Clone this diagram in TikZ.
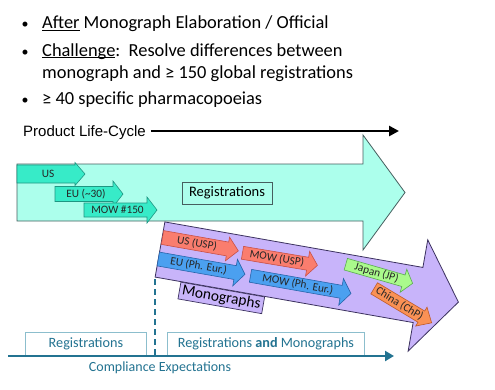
\documentclass[tikz,border=0pt]{standalone}
\usepackage{fontspec}
\setmainfont{Carlito}
\newfontfamily\arialf{Liberation Sans}
\usetikzlibrary{arrows.meta}
\definecolor{cyanbig}{RGB}{172,255,236}
\definecolor{cyanbigline}{RGB}{70,95,95}
\definecolor{cyansm}{RGB}{55,235,200}
\definecolor{cyansmline}{RGB}{30,150,130}
\definecolor{purp}{RGB}{200,180,250}
\definecolor{purpline}{RGB}{60,50,95}
\definecolor{salm}{RGB}{250,125,110}
\definecolor{salmline}{RGB}{200,80,70}
\definecolor{bluea}{RGB}{75,160,240}
\definecolor{blualine}{RGB}{40,100,170}
\definecolor{greena}{RGB}{170,250,140}
\definecolor{greenline}{RGB}{90,170,80}
\definecolor{orangea}{RGB}{250,145,85}
\definecolor{orangeline}{RGB}{190,90,40}
\definecolor{tealc}{RGB}{35,115,145}
\definecolor{tealbox}{RGB}{140,190,205}
\newcommand\myul[1]{{\setbox0\hbox{#1}\rlap{\rule[-2pt]{\wd0}{1pt}}\box0}}
\newcommand\myarrow[9]{%
  \begin{scope}[shift={(#2)},rotate=#3,transform shape]
    \draw[#8] (0,-#5/2) -- (#4,-#5/2) -- (#4,-#7) -- ({#4+#6},0) -- (#4,#7) -- (#4,#5/2) -- (0,#5/2) -- cycle;
    \node[lbl] (#1) at ({#4/2+2},0) {#9};
  \end{scope}}
\tikzset{
  lbl/.style={inner sep=0pt, font=\fontsize{11.3}{13}\selectfont, text=black!85},
  cyansmst/.style={fill=cyansm, draw=cyansmline, line width=0.6pt},
  salmst/.style={fill=salm, draw=salmline, line width=0.6pt},
  bluest/.style={fill=bluea, draw=blualine, line width=0.6pt},
  greenst/.style={fill=greena, draw=greenline, line width=0.6pt},
  orangest/.style={fill=orangea, draw=orangeline, line width=0.6pt},
  bullettext/.style={anchor=base west, inner sep=0pt, font=\fontsize{18.4}{22}\selectfont},
  bulletdot/.style={anchor=base, inner sep=0pt, font=\fontsize{14}{16}\selectfont},
  botbox/.style={draw=tealbox, line width=0.8pt, anchor=south west, minimum height=23pt, inner sep=0pt, text=tealc, font=\fontsize{14.2}{16}\selectfont},
}
\begin{document}
\begin{tikzpicture}[x=1pt,y=-1pt,line join=miter]
\useasboundingbox[fill=white] (0,0) rectangle (495,389);
% bullets
\node[bulletdot] (d1) at (25,28.5) {•};
\node[bullettext] (t1) at (42,28.5) {\myul{After} Monograph Elaboration / Official};
\node[bulletdot] (d2) at (25,56) {•};
\node[bullettext] (t2) at (42,56) {\myul{Challenge}:\ \ Resolve differences between};
\node[bullettext] (t3) at (42,78) {monograph and ≥ 150 global registrations};
\node[bulletdot] (d3) at (25,104) {•};
\node[bullettext] (t4) at (42,104) {≥ 40 specific pharmacopoeias};
% product life-cycle
\node[anchor=base west, inner sep=0pt, font=\arialf\fontsize{15}{17}\selectfont] (plc) at (23,136) {Product Life-Cycle};
\coordinate (plcend) at (399,131);
\draw[line width=2.6pt, -{Triangle[length=10pt,width=10pt]}] (plc.east |- plcend) ++(5,0) -- (plcend);
% big cyan arrow
\draw[fill=cyanbig, draw=cyanbigline, line width=0.8pt] (17,164) -- (363,164) -- (363,135) -- (405,192.5) -- (363,250) -- (363,221) -- (17,221) -- cycle;
\node[draw=cyanbigline, fill=cyanbig, line width=0.7pt, minimum width=90pt, minimum height=22pt, inner sep=0pt, font=\fontsize{14.5}{16}\selectfont] (regA) at (227,193) {Registrations};
\myarrow{us}{17,174}{0}{58}{18}{10}{11.5}{cyansmst}{US}
\myarrow{eu}{55,194}{0}{58}{15}{10}{13}{cyansmst}{EU (\textasciitilde30)}
\myarrow{mow}{84,210}{0}{63}{14}{10}{13}{cyansmst}{MOW \#150}
% big purple arrow
\begin{scope}[shift={(160,249.5)},rotate=-10]
\draw[fill=purp, draw=purpline, line width=0.8pt] (0,-28) -- (262,-28) -- (262,-56) -- (303,0) -- (262,57) -- (262,28) -- (0,28) -- cycle;
\end{scope}
\myarrow{usp}{162.5,237.5}{-10}{66}{14}{11}{12}{salmst}{US (USP)}
\myarrow{eup}{158.3,259}{-10}{78}{14}{10}{13.5}{bluest}{EU (Ph. Eur.)}
\myarrow{mowusp}{242.5,252.8}{-9.5}{66}{13}{10}{12.5}{salmst}{MOW (USP)}
\myarrow{mowpe}{250.5,275.8}{-10}{92}{13}{10}{13.5}{bluest}{MOW (Ph. Eur.)}
\myarrow{jp}{345.8,264.2}{-16}{60}{12}{9.5}{12}{greenst}{Japan (JP)}
\myarrow{chp}{374.2,288.3}{-31}{55}{13}{12}{11}{orangest}{China (ChP)}
\node[draw=purpline, fill=purp, line width=0.7pt, rotate=-10, minimum width=85pt, minimum height=17pt, inner sep=0pt, font=\fontsize{15.4}{17}\selectfont] (mono) at (221.3,297.9) {Monographs};
% bottom
\coordinate (dtop) at (155,279);
\coordinate (dbot) at (155,355);
\draw[tealc, line width=2pt, dash pattern=on 6pt off 4pt] (dtop) -- (dbot);
\node[botbox, minimum width=121pt] (regB) at (25,356) {Registrations};
\node[botbox, minimum width=197pt] (regmono) at (167,356) {Registrations \textbf{and} Monographs};
\coordinate (axl) at (8,356);
\coordinate (axr) at (394,356);
\draw[tealc, line width=2.5pt, -{Triangle[length=9pt,width=10pt]}] (axl) -- (axr);
\node[anchor=base, inner sep=0pt, text=tealc, font=\fontsize{14}{16}\selectfont] (ce) at (160,371) {Compliance Expectations};
\end{tikzpicture}
\end{document}
